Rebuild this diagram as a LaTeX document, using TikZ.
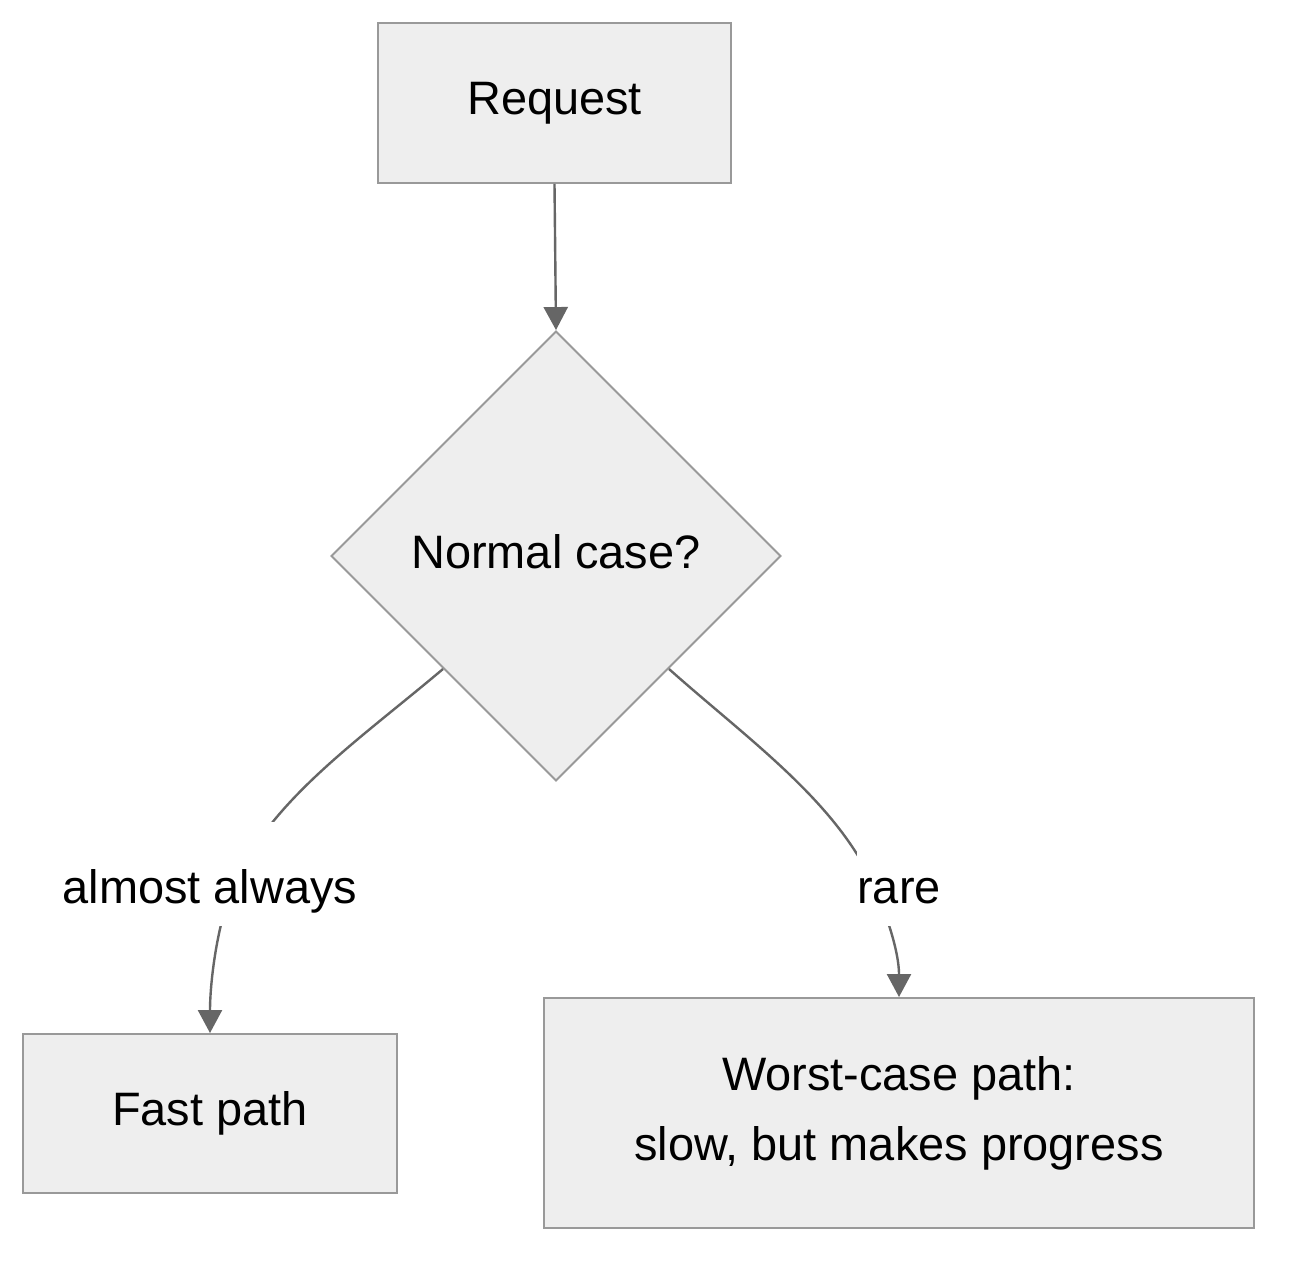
\documentclass[tikz,border=0pt]{standalone}
\usepackage{fontspec}
\setmainfont{Liberation Sans}
\usetikzlibrary{shapes.geometric,arrows.meta}
\definecolor{boxfill}{HTML}{EEEEEE}
\definecolor{boxline}{HTML}{999999}
\definecolor{edgecol}{HTML}{666666}
\begin{document}
\begin{tikzpicture}[x=0.02cm,y=-0.02cm,
  txt/.style={font=\fontsize{26.7}{39.8}\selectfont},
  box/.style={txt,draw=boxline,fill=boxfill,line width=0.04cm,inner sep=0pt,align=center},
  decision/.style={txt,diamond,aspect=1,draw=boxline,fill=boxfill,line width=0.04cm,inner sep=0pt,minimum size=9cm,text depth=0.2cm},
  edge/.style={draw=edgecol,line width=0.048cm,-{Triangle[length=0.46cm,width=0.48cm]}},
  lbl/.style={txt,fill=white,inner sep=0pt,text height=1.62cm,text depth=0.46cm}]
\useasboundingbox[fill=white] (0,0) rectangle (1302,1275);
\node[box,minimum width=7.06cm,minimum height=3.2cm] (req) at (554.5,103) {Request};
\node[decision] (d) at (556,556) {Normal case?};
\node[box,minimum width=7.48cm,minimum height=3.18cm] (fast) at (210,1113.5) {Fast path};
\node[box,minimum width=14.2cm,minimum height=4.6cm] (worst) at (899,1113) {Worst-case path:\\slow, but makes progress};
\coordinate (ma) at (238,875);
\coordinate (mb) at (878,895);
\draw[edge] (req.south) -- (d.north);
\draw[edge] (d.south west) .. controls (360,739) and (278,795) .. (ma)
  .. controls (218,915) and (210,980) .. (fast.north);
\draw[edge] (d.south east) .. controls (751,742) and (842,805) .. (mb)
  .. controls (894,935) and (899,960) .. (worst.north);
\node[lbl,anchor=base] (la) at (210,903) {almost always};
\node[lbl,anchor=base] (lb) at (899,903) {rare};
\end{tikzpicture}
\end{document}
